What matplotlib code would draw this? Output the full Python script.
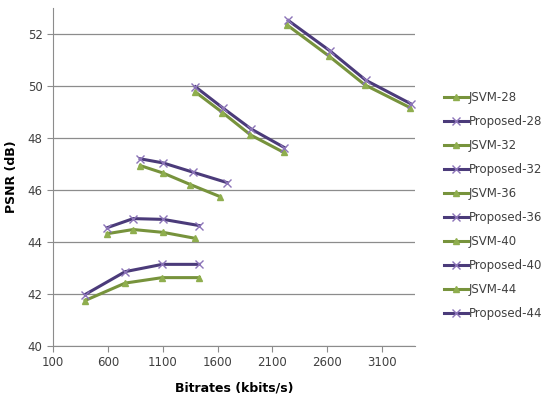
import matplotlib.pyplot as plt

# PSNR vs bitrate, JSVM vs proposed for each QP
qps = [28, 32, 36, 40, 44]

jsvm_rate = {
    28: [2233, 2616, 2944, 3354],
    32: [1398, 1645, 1900, 2202],
    36: [895, 1105, 1352, 1626],
    40: [594, 831, 1105, 1398],
    44: [393, 758, 1096, 1435],
}
jsvm_psnr = {
    28: [52.35, 51.15, 50.04, 49.17],
    32: [49.77, 48.98, 48.12, 47.45],
    36: [46.94, 46.65, 46.21, 45.74],
    40: [44.32, 44.48, 44.37, 44.14],
    44: [41.75, 42.42, 42.63, 42.63],
}
prop_rate = {
    28: [2245, 2625, 2952, 3360],
    32: [1398, 1650, 1905, 2210],
    36: [895, 1105, 1380, 1690],
    40: [594, 831, 1105, 1435],
    44: [393, 758, 1096, 1435],
}
prop_psnr = {
    28: [52.52, 51.35, 50.22, 49.32],
    32: [49.97, 49.15, 48.35, 47.63],
    36: [47.2, 47.04, 46.68, 46.28],
    40: [44.55, 44.9, 44.87, 44.63],
    44: [41.98, 42.86, 43.14, 43.14],
}

green = '#77933c'
green_mk = '#8fae4e'
purple = '#4b3b7a'
purple_mk = '#8c74b8'

fig = plt.figure(figsize=(5.43, 4.05), dpi=100)
ax = fig.add_axes([53 / 543, (405 - 346) / 405, (415 - 53) / 543, (346 - 8) / 405])

for q in qps:
    ax.plot(jsvm_rate[q], jsvm_psnr[q], color=green, lw=2.2, marker='^', ms=5,
            mfc=green_mk, mec=green_mk, label=f'JSVM-{q}', zorder=3)
    ax.plot(prop_rate[q], prop_psnr[q], color=purple, lw=2.2, marker='x', ms=6,
            mew=1.0, mec=purple_mk, label=f'Proposed-{q}', zorder=4)

ax.set_xlim(100, 3400)
ax.set_ylim(40, 53)
ax.set_xticks(range(100, 3101, 500))
ax.set_yticks(range(40, 53, 2))
ax.grid(axis='y', color='#8c8c8c', lw=0.9)
ax.set_axisbelow(True)
for s in ['top', 'right']:
    ax.spines[s].set_visible(False)
for s in ['left', 'bottom']:
    ax.spines[s].set_color('#8c8c8c')
ax.tick_params(colors='#8c8c8c', labelcolor='#404040', labelsize=8.5, length=4)

ax.set_xlabel('Bitrates (kbits/s)', fontsize=9, fontweight='bold', labelpad=9)
ax.set_ylabel('PSNR (dB)', fontsize=9, fontweight='bold', labelpad=7)

leg = fig.legend(loc='upper left', bbox_to_anchor=(444 / 543, 1 - 91 / 405),
                 frameon=False, fontsize=8.5, handlelength=2.0, handletextpad=0.1,
                 labelspacing=0.93, borderaxespad=0, borderpad=0)
for t in leg.get_texts():
    t.set_color('#404040')

fig.savefig('out.png', dpi=100)
